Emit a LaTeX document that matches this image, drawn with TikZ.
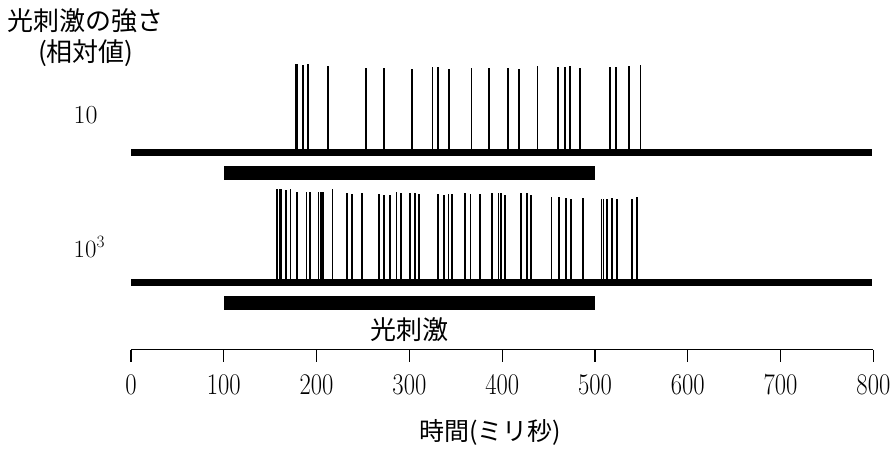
\documentclass[tikz,border=0pt]{standalone}
\usepackage{fontspec}
\usepackage{graphicx}
\newfontfamily\jpfont{Noto Sans CJK JP}

\begin{document}
\begin{tikzpicture}[x=1pt,y=-1pt,
    spike/.style={line width=1.7pt},
    trace/.style={line width=7pt},
    stimbar/.style={fill=black},
    axisline/.style={line width=1.1pt},
    jplabel/.style={font=\jpfont\fontsize{26}{31}\selectfont, inner sep=0pt},
    numlabel/.style={font=\fontsize{26}{30}\selectfont, inner sep=0pt, anchor=base west},
    ticklabel/.style={font=\fontsize{30}{34}\selectfont, inner sep=0pt}]
  \useasboundingbox (0,0) rectangle (895,448);
  \node[jplabel, align=center] (title) at (86,38) {光刺激の強さ\\(相対値)};
  \node[numlabel] (low) at (73.5,123) {10};
  \node[numlabel] (high) at (73.5,257) {$10^3$};
  \begin{scope}[xshift=131pt, x=0.928pt]
    % intensity 10
    \draw[trace] (0,152) -- (799,152);
    \foreach \t/\h in {178/64, 179/64, 185/65, 191/64, 212/66, 253/68, 273/68,
        303/69, 325/67, 331/67, 343/69, 367/68, 386/68, 406/68, 418/69, 438/66,
        460/67, 468/67, 473/66, 484/68, 516/67, 523/67, 537/66, 549/65}
      \draw[spike] (\t,\h) -- (\t,152);
    \fill[stimbar] (100,166) rectangle (500,179.5);
    % intensity 10^3
    \draw[trace] (0,282.5) -- (799,282.5);
    \foreach \t/\h in {157/189, 160/189, 162/189, 167/190, 172/189, 179/192,
        189/192, 193/192, 202/192, 205/192, 207/192, 217/189, 233/193, 238/194,
        249/193, 267/194, 273/195, 279/195, 286/192, 291/193, 301/193, 306/193,
        310/194, 331/194, 337/195, 342/194, 346/194, 360/193, 366/194, 376/194,
        389/193, 396/193, 399/193, 403/195, 420/193, 427/193, 431/195, 453/197,
        461/197, 469/198, 474/199, 487/198, 507/199, 509/199, 513/199, 518/198,
        524/199, 540/199, 545/197}
      \draw[spike] (\t,\h) -- (\t,282.5);
    \fill[stimbar] (100,296) rectangle (500,310);
    \node[jplabel] (stim) at (300,330) {光刺激};
    % time axis
    \draw[axisline] (0,349.5) -- (800,349.5);
    \foreach \t in {0,100,...,800} {
      \draw[axisline] (\t,349.5) -- (\t,362);
      \node[ticklabel] (t\t) at (\t,385) {\scalebox{0.82}[1]{\t}};
    }
    \node[jplabel, font=\jpfont\fontsize{25}{30}\selectfont] (xlabel) at (387,432) {時間(ミリ秒)};
  \end{scope}
\end{tikzpicture}
\end{document}
